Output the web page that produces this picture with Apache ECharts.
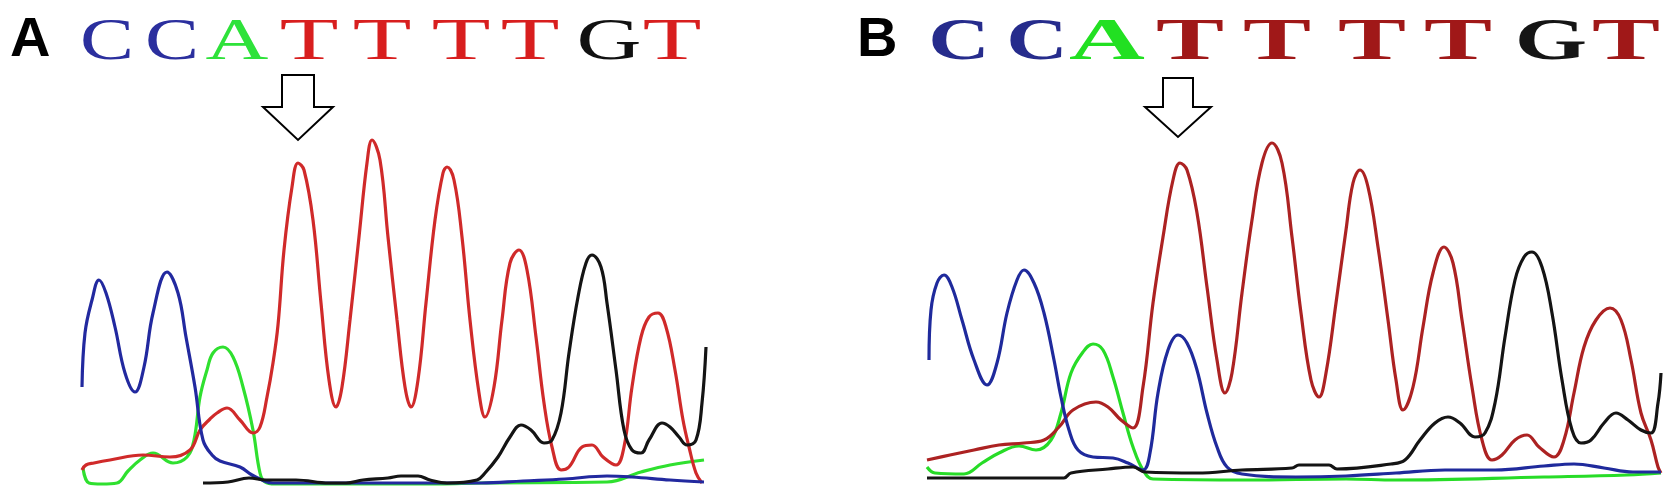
<!DOCTYPE html>
<html>
<head>
<meta charset="utf-8">
<script src="https://cdn.jsdelivr.net/npm/echarts@6/dist/echarts.min.js"></script>
<style>
  html, body { margin: 0; padding: 0; background: #fff; }
  #main { width: 1677px; height: 501px; }
</style>
</head>
<body>
<div id="main"></div>
<script>
// base calls shown above each trace
const bases = ['C', 'C', 'A', 'T', 'T', 'T', 'T', 'G', 'T'];
const aBasePos = [27, 92, 157, 229, 302, 381, 450, 529, 592];
const bBasePos = [32, 110, 180, 263, 350, 445, 531, 624, 699];
// where the open arrow points (scan position)
const aArrowPos = 218;
const bArrowPos = 251;

// panel A traces: [scan, intensity]
const aBlue = [[2,98],[5,152],[12,185],[19,205],[26,192],[35,158],[45,112],[55,93],[64,118],[73,172],[87,213],[98,192],[106,148],[115,98],[123,45],[132,30],[140,24],[160,18],[172,10],[182,5],[193,2],[232,2],[350,2],[401,2],[443,4],[485,6],[527,9],[552,8],[590,5],[624,3]];
const aGreen = [[3,17],[9,2],[22,1],[37,2],[48,14],[60,25],[73,32],[93,22],[107,28],[114,45],[120,88],[127,115],[133,132],[143,138],[153,128],[163,98],[173,55],[180,12],[185,3],[195,1],[359,1],[401,2],[527,3],[561,13],[590,20],[624,25]];
const aRed = [[2,15],[6,20],[14,22],[30,25],[63,30],[90,28],[110,35],[120,55],[130,66],[137,72],[147,77],[160,65],[173,52],[180,58],[187,88],[193,122],[198,160],[204,235],[212,298],[218,322],[224,315],[233,265],[241,182],[249,105],[256,78],[262,98],[270,165],[279,248],[287,322],[292,345],[300,325],[308,248],[317,165],[325,98],[331,78],[338,105],[346,182],[355,265],[363,312],[367,318],[374,305],[382,248],[390,165],[399,92],[405,68],[414,98],[422,165],[430,222],[439,235],[447,215],[456,148],[464,82],[472,38],[481,15],[489,18],[502,38],[512,40],[523,28],[536,20],[544,38],[552,98],[561,148],[569,168],[578,172],[586,158],[595,115],[603,65],[609,38],[616,12],[622,2]];
const aBlack = [[123,2],[148,3],[169,7],[186,5],[216,5],[249,2],[266,2],[283,5],[308,7],[321,9],[338,9],[350,5],[367,2],[397,5],[405,12],[418,28],[430,48],[441,60],[451,55],[464,42],[472,45],[481,72],[489,132],[498,188],[506,222],[512,230],[521,218],[527,182],[536,115],[544,55],[552,35],[561,32],[569,45],[582,62],[590,58],[599,48],[607,40],[616,45],[622,82],[626,138]];

// panel B traces: [scan, intensity]
const bBlue = [[2,125],[4,175],[10,202],[17,210],[25,198],[35,165],[47,125],[60,100],[70,122],[80,172],[90,205],[97,215],[107,202],[117,172],[127,125],[134,88],[142,55],[151,35],[166,28],[186,27],[201,22],[216,15],[223,32],[231,92],[241,135],[251,150],[260,142],[270,115],[280,72],[290,38],[300,18],[315,11],[369,8],[419,9],[469,12],[518,15],[568,15],[617,19],[647,21],[677,17],[706,13],[734,13]];
const bGreen = [[0,18],[8,12],[37,11],[55,22],[72,32],[92,39],[109,35],[124,45],[134,72],[144,112],[156,133],[166,141],[176,135],[186,108],[196,72],[206,38],[216,15],[226,6],[320,5],[419,6],[469,5],[617,8],[700,10],[734,12]];
const bRed = [[0,25],[23,30],[47,35],[72,40],[97,42],[117,45],[132,58],[146,75],[169,83],[181,78],[194,65],[206,57],[216,98],[226,182],[236,248],[246,305],[253,322],[260,315],[270,272],[280,198],[290,125],[298,92],[305,112],[315,192],[325,265],[335,322],[345,342],[355,322],[365,248],[374,172],[384,105],[392,88],[399,112],[409,182],[419,255],[426,302],[433,315],[441,298],[451,238],[461,165],[469,105],[476,75],[486,98],[496,158],[506,212],[517,238],[526,222],[535,165],[545,98],[555,45],[565,25],[575,30],[588,45],[600,50],[612,38],[627,28],[637,45],[647,92],[657,138],[669,165],[683,177],[694,165],[704,125],[714,72],[724,45],[731,18],[734,12]];
const bBlack = [[0,7],[72,7],[137,7],[144,12],[181,16],[206,18],[218,13],[270,12],[315,15],[365,17],[372,20],[402,20],[410,16],[464,21],[478,25],[493,45],[508,62],[521,68],[533,62],[548,48],[558,52],[568,82],[578,148],[588,205],[597,228],[605,233],[615,218],[625,172],[635,105],[645,55],[654,42],[664,45],[677,62],[689,72],[701,65],[714,55],[724,52],[731,82],[734,112]];

const colA = { blue: '#22299f', green: '#2fe02f', red: '#d02a2a', black: '#141414' };
const colB = { blue: '#1f2a9c', green: '#27dc27', red: '#ac2222', black: '#141414' };
const baseColA = { C: '#2b2f9e', A: '#2ee23a', T: '#d81e1e', G: '#111111' };
const baseColB = { C: '#262c8c', A: '#22e022', T: '#a01818', G: '#151515' };
// horizontal stretch of each letter (the calls are drawn wide)
const stretchA = { C: 1.35, A: 1.45, T: 1.6, G: 1.5 };
const stretchB = { C: 1.42, A: 1.75, T: 1.7, G: 1.55 };

function trace(data, color, g) {
  return {
    type: 'line',
    xAxisIndex: g,
    yAxisIndex: g,
    data: data,
    smooth: 0.4,
    symbol: 'none',
    lineStyle: { color: color, width: 3.2 },
    silent: true
  };
}

const chart = echarts.init(document.getElementById('main'));
const option = {
  animation: false,
  backgroundColor: '#ffffff',
  grid: [
    { left: 80, top: 135, width: 626, height: 350 },
    { left: 927, top: 135, width: 734, height: 350 }
  ],
  xAxis: [
    { type: 'value', gridIndex: 0, min: 0, max: 626, show: false },
    { type: 'value', gridIndex: 1, min: 0, max: 734, show: false }
  ],
  yAxis: [
    { type: 'value', gridIndex: 0, min: 0, max: 350, show: false },
    { type: 'value', gridIndex: 1, min: 0, max: 350, show: false }
  ],
  series: [
    trace(aGreen, colA.green, 0),
    trace(aRed, colA.red, 0),
    trace(aBlue, colA.blue, 0),
    trace(aBlack, colA.black, 0),
    trace(bGreen, colB.green, 1),
    trace(bRed, colB.red, 1),
    trace(bBlue, colB.blue, 1),
    trace(bBlack, colB.black, 1)
  ]
};
chart.setOption(option);

// letters, panel labels and arrows placed through the axes
const px = (g, v) => chart.convertToPixel({ gridIndex: g }, [v, 0])[0];
const graphic = [];

function panelLabel(text, x) {
  graphic.push({
    type: 'text', x: x, y: 41,
    style: { text: text, font: 'bold 56px "Liberation Sans", Arial, sans-serif', fill: '#000', align: 'left', verticalAlign: 'middle' }
  });
}
function baseRow(pos, g, cols, stretch, weight) {
  bases.forEach((b, i) => {
    graphic.push({
      type: 'text', x: px(g, pos[i]), y: 43, scaleX: stretch[b],
      style: { text: b, x: 0, y: 0, font: weight + ' 60px "Liberation Serif", "DejaVu Serif", serif', fill: cols[b], align: 'center', verticalAlign: 'middle' }
    });
  });
}
function arrow(pos, g, top, neck, tip, hw, sw) {
  graphic.push({
    type: 'polygon', x: px(g, pos), y: tip,
    shape: { points: [[-sw, top - tip], [sw, top - tip], [sw, neck - tip], [hw, neck - tip], [0, 0], [-hw, neck - tip], [-sw, neck - tip]] },
    style: { fill: '#fff', stroke: '#000', lineWidth: 2 }
  });
}

panelLabel('A', 10);
panelLabel('B', 857);
baseRow(aBasePos, 0, baseColA, stretchA, 'normal');
baseRow(bBasePos, 1, baseColB, stretchB, 'bold');
arrow(aArrowPos, 0, 75, 107, 140, 35, 16);
arrow(bArrowPos, 1, 78, 107, 137, 33, 15);

chart.setOption({ graphic: graphic });
</script>
</body>
</html>
